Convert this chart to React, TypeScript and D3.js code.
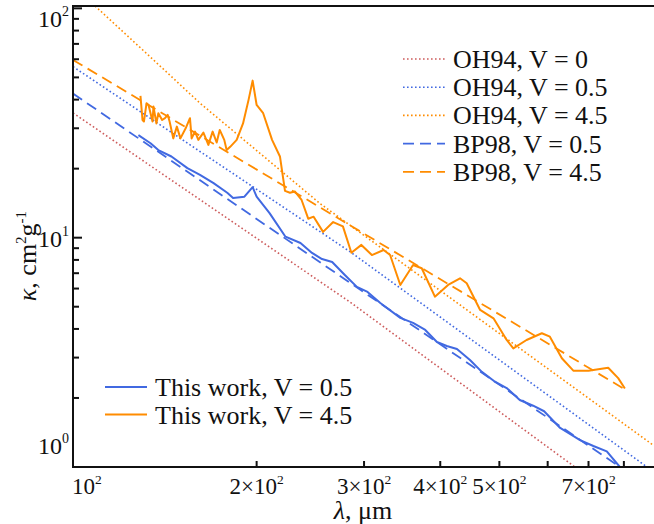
import React, { useEffect } from "react";
import * as d3 from "d3";

// ---------- data ----------
const oh94V0Lambda = [100, 284.5, 665];
const oh94V0Kappa = [35.0, 5.24, 1.0];
const oh94V05Lambda = [100, 284.5, 873];
const oh94V05Kappa = [55.7, 8.69, 1.0];
const oh94V45Lambda = [108.7, 135.5, 161.5, 254, 420, 893];
const oh94V45Kappa = [102.4, 59.6, 38.6, 14.1, 5.35, 1.247];
const bp98V05Lambda = [100, 788];
const bp98V05Kappa = [42.5, 1.0];
const bp98V45Lambda = [100, 803];
const bp98V45Kappa = [59.6, 2.18];

const workV05Lambda = [128, 134, 138, 145, 154, 161.5, 170, 179, 183, 191, 197, 200, 210, 223, 236, 246.5, 256, 266, 279, 292, 304, 319, 344, 361, 378, 395, 410, 426, 447.5, 468, 490, 514, 540, 568, 592, 629, 678, 713, 750, 788];
const workV05Kappa = [28.0, 25.8, 24.1, 22.6, 20.1, 18.8, 17.3, 15.7, 14.9, 15.1, 16.6, 15.1, 12.8, 10.1, 9.48, 8.58, 8.07, 7.83, 6.88, 6.1, 5.8, 5.19, 4.47, 4.25, 3.96, 3.51, 3.37, 3.27, 2.93, 2.6, 2.37, 2.21, 1.96, 1.85, 1.75, 1.48, 1.31, 1.235, 1.17, 1.0];

const workV45Lambda = [129, 130, 130.7, 132, 133, 135, 135.5, 137, 138, 140, 141.5, 143, 144, 146, 148, 150, 153, 155.5, 156.5, 158.5, 160.5, 163.6, 166.7, 169.4, 172, 174, 177, 178.6, 181, 185.5, 190, 194, 197, 200, 205, 212, 218.4, 222.6, 226.8, 231, 237, 243, 248, 257, 267, 277, 286, 297, 309, 323, 331, 344, 361, 373, 392, 412, 431, 442, 465, 489, 514, 527, 554, 587, 605, 633, 661, 700, 754, 783, 803];
const workV45Kappa = [41.5, 32.6, 32.1, 38.6, 37.9, 32.1, 37.3, 31.5, 34.9, 32.6, 33.2, 34.3, 32.1, 27.1, 30.5, 27.1, 30.0, 33.2, 27.1, 29.0, 26.7, 28.7, 25.4, 29.0, 26.0, 29.5, 26.7, 24.1, 24.9, 26.7, 31.5, 39.9, 48.4, 37.9, 34.9, 26.7, 22.6, 16.0, 15.7, 15.9, 14.6, 12.1, 12.35, 10.6, 11.7, 11.2, 8.6, 9.3, 8.4, 8.84, 8.4, 6.22, 7.6, 7.36, 5.53, 6.22, 6.65, 6.33, 4.84, 4.45, 3.58, 3.29, 3.58, 3.83, 3.7, 2.98, 2.63, 2.63, 2.71, 2.44, 2.2];

const xTickValues = [100, 200, 300, 400, 500, 600, 700, 800, 900, 1000];
const xTickMantissa = ["1", "2", "3", "4", "5", "", "7", "", "", ""];
const yMajorTicks = [1, 10, 100];
const yMajorExp = ["0", "1", "2"];
const yMinorTicks = [2, 3, 4, 5, 6, 7, 8, 9, 20, 30, 40, 50, 60, 70, 80, 90];

const legendTopLabels = ["OH94, V = 0", "OH94, V = 0.5", "OH94, V = 4.5", "BP98, V = 0.5", "BP98, V = 4.5"];
const legendBottomLabels = ["This work, V = 0.5", "This work, V = 4.5"];

// ---------- styles ----------
const RED = "#cd5c5c";
const BLUE = "#4169e1";
const ORANGE = "#ff8c00";
const FONT = "'Liberation Serif', 'Times New Roman', serif";
const DOT = "1.6 2.4";
const DASH = "11 6";

const W = 654;
const H = 524;
const L = 73;
const T = 6;
const B = 467;

export default function App() {
  useEffect(() => {
    document.body.style.margin = "0";
  }, []);

  const x = d3.scaleLog().domain([100, 1000]).range([L, L + 610]);
  const y = d3.scaleLog().domain([1, 102.4]).range([B, T]);

  const line = d3
    .line<[number, number]>()
    .x((d) => x(d[0]))
    .y((d) => y(d[1]));
  const zip = (a: number[], b: number[]) => a.map((v, i) => [v, b[i]] as [number, number]);

  const series = [
    { lam: oh94V0Lambda, kap: oh94V0Kappa, color: RED, dash: DOT, w: 1.6 },
    { lam: oh94V05Lambda, kap: oh94V05Kappa, color: BLUE, dash: DOT, w: 1.6 },
    { lam: oh94V45Lambda, kap: oh94V45Kappa, color: ORANGE, dash: DOT, w: 1.6 },
    { lam: bp98V05Lambda, kap: bp98V05Kappa, color: BLUE, dash: DASH, w: 1.8 },
    { lam: bp98V45Lambda, kap: bp98V45Kappa, color: ORANGE, dash: DASH, w: 1.8 },
    { lam: workV05Lambda, kap: workV05Kappa, color: BLUE, dash: "", w: 2 },
    { lam: workV45Lambda, kap: workV45Kappa, color: ORANGE, dash: "", w: 2 },
  ];

  const topLegendStyles = series.slice(0, 5);
  const bottomLegendStyles = series.slice(5);

  return (
    <svg width={W} height={H} style={{ position: "absolute", left: 0, top: 0, background: "#fff" }} fontFamily={FONT}>
      <defs>
        <clipPath id="plotclip">
          <rect x={L} y={T} width={W - L + 20} height={B - T} />
        </clipPath>
      </defs>
      <rect x={0} y={0} width={W} height={H} fill="#fff" />

      <g clipPath="url(#plotclip)">
        {series.map((s, i) => (
          <path
            key={i}
            d={line(zip(s.lam, s.kap)) || ""}
            fill="none"
            stroke={s.color}
            strokeWidth={s.w}
            strokeDasharray={s.dash || undefined}
            strokeLinejoin="round"
          />
        ))}
      </g>

      {/* frame */}
      <line x1={L} x2={W + 2} y1={T} y2={T} stroke="#111" strokeWidth={2} />
      <line x1={L} x2={W + 2} y1={B} y2={B} stroke="#111" strokeWidth={2} />
      <line x1={L} x2={L} y1={T - 1} y2={B + 1} stroke="#111" strokeWidth={2} />

      {/* x ticks */}
      {xTickValues.map((v, i) => {
        const px = x(v);
        if (px > W + 5) return null;
        const major = v === 100 || v === 1000;
        return (
          <g key={"xt" + i}>
            <line x1={px} x2={px} y1={B} y2={B - (major ? 9 : 6)} stroke="#111" strokeWidth={2} />
            {xTickMantissa[i] !== "" && (
              <text
                x={i === 0 ? px - 1 : px}
                y={494}
                fontSize={23}
                textAnchor={i === 0 ? "start" : "middle"}
                fill="#111"
              >
                {xTickMantissa[i] === "1" ? "10" : xTickMantissa[i] + "×10"}
                <tspan dy={-10} fontSize={13.5}>2</tspan>
              </text>
            )}
          </g>
        );
      })}

      {/* y ticks */}
      {yMinorTicks.map((v, i) => (
        <line key={"ym" + i} x1={L} x2={L + 6} y1={y(v)} y2={y(v)} stroke="#111" strokeWidth={2} />
      ))}
      {yMajorTicks.map((v, i) => {
        const py = y(v);
        const base = Math.min(Math.max(py + 9, 27), 454);
        return (
          <g key={"yM" + i}>
            <line x1={L} x2={L + 9} y1={py} y2={py} stroke="#111" strokeWidth={2} />
            <text x={69} y={base} fontSize={24} textAnchor="end" fill="#111">
              10
              <tspan dy={-11} fontSize={14}>{yMajorExp[i]}</tspan>
            </text>
          </g>
        );
      })}

      {/* axis titles */}
      <text x={363} y={519} fontSize={26} textAnchor="middle" fill="#111">
        <tspan fontStyle="italic">λ</tspan>, μm
      </text>
      <text transform="translate(36,256) rotate(-90)" fontSize={26} textAnchor="middle" fill="#111">
        <tspan fontStyle="italic">κ</tspan>, cm
        <tspan dy={-10} fontSize={15}>2</tspan>
        <tspan dy={10}>g</tspan>
        <tspan dy={-10} fontSize={15}>-1</tspan>
      </text>

      {/* top legend */}
      {legendTopLabels.map((lab, i) => {
        const s = topLegendStyles[i];
        const ry = 59 + i * 28.2;
        return (
          <g key={"lt" + i}>
            <line x1={403} x2={445} y1={ry} y2={ry} stroke={s.color} strokeWidth={s.w} strokeDasharray={s.dash || undefined} />
            <text x={453} y={ry + 9} fontSize={26} fill="#111">{lab}</text>
          </g>
        );
      })}

      {/* bottom legend */}
      {legendBottomLabels.map((lab, i) => {
        const s = bottomLegendStyles[i];
        const ry = 387 + i * 27.5;
        return (
          <g key={"lb" + i}>
            <line x1={105} x2={147} y1={ry} y2={ry} stroke={s.color} strokeWidth={s.w} />
            <text x={155} y={ry + 9} fontSize={26} fill="#111">{lab}</text>
          </g>
        );
      })}
    </svg>
  );
}
